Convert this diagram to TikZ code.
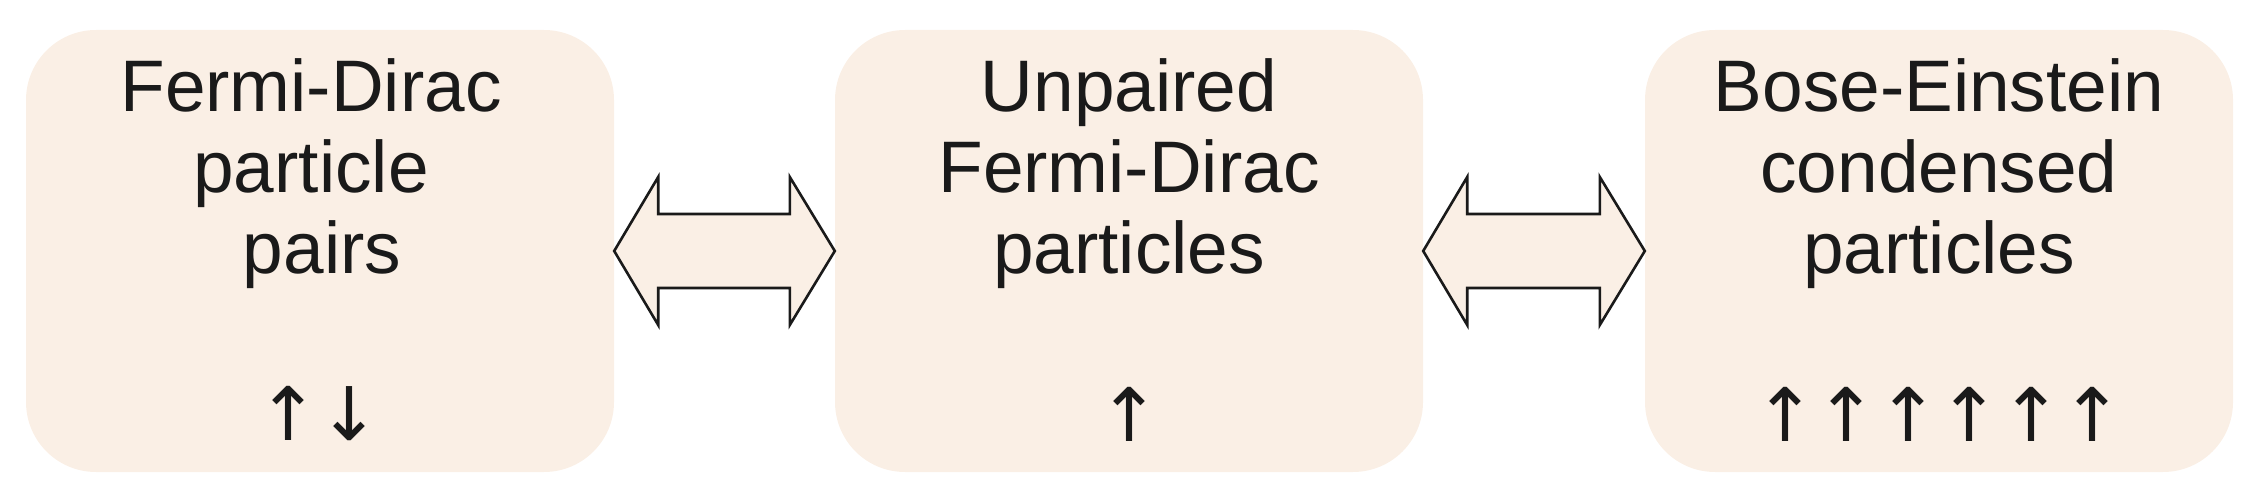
\documentclass[tikz,border=0pt]{standalone}
\usepackage{fontspec}
\setmainfont{Liberation Sans}
\newfontfamily\arrowfont{DejaVu Sans}
\usetikzlibrary{calc}
\definecolor{boxfill}{HTML}{FAEFE5}
\definecolor{ink}{HTML}{1A1A1A}
\newcommand\spinbox[1]{\makebox[61.5pt]{#1}}
\begin{document}
\begin{tikzpicture}[x=1pt,y=-1pt,
  box/.style={fill=boxfill,draw=none,rounded corners=70pt,minimum width=588pt,minimum height=442pt,inner sep=0pt},
  title/.style={anchor=north,align=center,inner sep=0pt,text=ink,font={\fontsize{73}{81}\selectfont}},
  spins/.style={anchor=center,inner sep=0pt,text=ink,font={\arrowfont\fontsize{74}{81}\selectfont}},
  dblarrow/.style={fill=boxfill,draw=ink,line width=2.6pt,line join=miter}]
\useasboundingbox (0,0) rectangle (2261,502);
\node[box] (b1) at (320,251) {};
\node[box] (b2) at (1129,251) {};
\node[box] (b3) at (1939,251) {};
\node[title] (t1) at (311,51) {\rule{0pt}{60pt}Fermi-Dirac\\particle\\\hspace*{22pt}pairs};
\node[title] (t2) at (1129,51) {\rule{0pt}{60pt}Unpaired\\Fermi-Dirac\hspace*{16pt}\\particles};
\node[title] (t3) at (1939,51) {\rule{0pt}{60pt}Bose-Einstein\\condensed\\particles};
\node[spins] (s1) at (319,414) {\spinbox{↑}\spinbox{↓}};
\node[spins] (s2) at (1129,414) {↑};
\node[spins] (s3) at (1939,414) {\spinbox{↑}\spinbox{↑}\spinbox{↑}\spinbox{↑}\spinbox{↑}\spinbox{↑}};
\draw[dblarrow] (b1.east) -- ++(44,-74) -- ++(0,37) -- ($(b2.west)+(-45,-37)$) -- ++(0,-37) -- (b2.west)
  -- ++(-45,74) -- ++(0,-37) -- ($(b1.east)+(44,37)$) -- ++(0,37) -- cycle;
\draw[dblarrow] (b2.east) -- ++(44,-74) -- ++(0,37) -- ($(b3.west)+(-45,-37)$) -- ++(0,-37) -- (b3.west)
  -- ++(-45,74) -- ++(0,-37) -- ($(b2.east)+(44,37)$) -- ++(0,37) -- cycle;
\end{tikzpicture}
\end{document}
